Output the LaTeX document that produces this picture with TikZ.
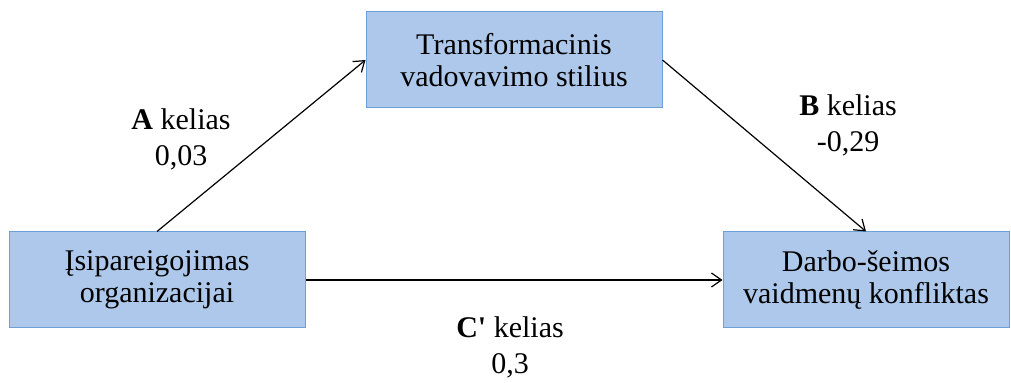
\documentclass[tikz,border=0pt]{standalone}
\usepackage{fontspec}
\newfontfamily\lts{Liberation Serif}
\usetikzlibrary{arrows.meta, positioning}
\definecolor{boxfill}{RGB}{173,200,234}
\definecolor{boxline}{RGB}{110,160,216}

\begin{document}
\begin{tikzpicture}[x=0.5pt, y=-0.5pt,
  every node/.style={font=\lts\fontsize{15}{16}\selectfont, align=center},
  varbox/.style={draw=boxline, fill=boxfill, line width=0.5pt, minimum height=48pt, inner sep=0pt},
  path lbl/.style={font=\lts\fontsize{15}{18}\selectfont},
  link/.style={-{Straight Barb[length=5pt, width=7pt]}, line width=0.6pt}]
\useasboundingbox (0,0) rectangle (1011,383);
\node[varbox, minimum width=148pt] (tvs) at (514,60) {Transformacinis\\vadovavimo stilius};
\node[varbox, minimum width=148pt] (iso) at (157,280) {Įsipareigojimas\\organizacijai};
\node[varbox, minimum width=143pt] (dsk) at (866,280) {Darbo-šeimos\\vaidmenų konfliktas};
% keliai
\draw[link] (iso.north) -- (tvs.west);
\draw[link] (tvs.east) -- (dsk.north);
\draw[link] (iso.east) -- (dsk.west);
\node[path lbl] (lblA) at (181,139) {\textbf{A} kelias\\0,03};
\node[path lbl] (lblB) at (848,125) {\textbf{B} kelias\\-0,29};
\node[path lbl] (lblC) at (510,347) {\textbf{C'} kelias\\0,3};
\end{tikzpicture}
\end{document}
